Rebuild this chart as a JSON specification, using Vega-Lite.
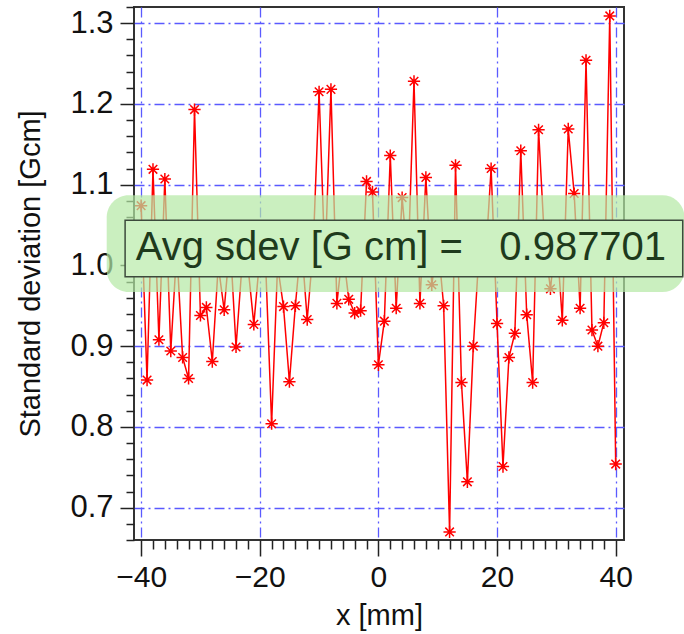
{
  "$schema": "https://vega.github.io/schema/vega-lite/v6.json",
  "width": 490,
  "height": 533,
  "autosize": "none",
  "padding": {"left": 134, "top": 7, "right": 60, "bottom": 94},
  "background": "white",
  "config": {
    "view": {"stroke": "#333333", "strokeWidth": 2},
    "font": "Liberation Sans"
  },
  "datasets": {
    "series": [
      {"x": -40, "sd": 1.074}, {"x": -39, "sd": 0.858}, {"x": -38, "sd": 1.119}, {"x": -37, "sd": 0.908},
      {"x": -36, "sd": 1.107}, {"x": -35, "sd": 0.894}, {"x": -34, "sd": 1.02}, {"x": -33, "sd": 0.886},
      {"x": -32, "sd": 0.86}, {"x": -31, "sd": 1.193}, {"x": -30, "sd": 0.938}, {"x": -29, "sd": 0.948},
      {"x": -28, "sd": 0.881}, {"x": -27, "sd": 1.0}, {"x": -26, "sd": 0.945}, {"x": -25, "sd": 1.03},
      {"x": -24, "sd": 0.899}, {"x": -23, "sd": 1.0}, {"x": -22, "sd": 1.0}, {"x": -21, "sd": 0.927},
      {"x": -20, "sd": 1.01}, {"x": -19, "sd": 1.0}, {"x": -18, "sd": 0.804}, {"x": -17, "sd": 1.0},
      {"x": -16, "sd": 0.949}, {"x": -15, "sd": 0.856}, {"x": -14, "sd": 0.95}, {"x": -13, "sd": 1.03},
      {"x": -12, "sd": 0.933}, {"x": -11, "sd": 1.02}, {"x": -10, "sd": 1.215}, {"x": -9, "sd": 1.0},
      {"x": -8, "sd": 1.218}, {"x": -7, "sd": 0.953}, {"x": -6, "sd": 1.02}, {"x": -5, "sd": 0.958},
      {"x": -4, "sd": 0.941}, {"x": -3, "sd": 0.944}, {"x": -2, "sd": 1.104}, {"x": -1, "sd": 1.091},
      {"x": 0, "sd": 0.877}, {"x": 1, "sd": 0.931}, {"x": 2, "sd": 1.136}, {"x": 3, "sd": 0.947},
      {"x": 4, "sd": 1.084}, {"x": 5, "sd": 1.0}, {"x": 6, "sd": 1.228}, {"x": 7, "sd": 0.953},
      {"x": 8, "sd": 1.109}, {"x": 9, "sd": 0.976}, {"x": 10, "sd": 1.03}, {"x": 11, "sd": 0.95},
      {"x": 12, "sd": 0.67}, {"x": 13, "sd": 1.124}, {"x": 14, "sd": 0.855}, {"x": 15, "sd": 0.732},
      {"x": 16, "sd": 0.9}, {"x": 17, "sd": 1.02}, {"x": 18, "sd": 1.0}, {"x": 19, "sd": 1.12},
      {"x": 20, "sd": 0.928}, {"x": 21, "sd": 0.751}, {"x": 22, "sd": 0.886}, {"x": 23, "sd": 0.916},
      {"x": 24, "sd": 1.142}, {"x": 25, "sd": 0.939}, {"x": 26, "sd": 0.855}, {"x": 27, "sd": 1.168},
      {"x": 28, "sd": 1.03}, {"x": 29, "sd": 0.971}, {"x": 30, "sd": 1.04}, {"x": 31, "sd": 0.932},
      {"x": 32, "sd": 1.169}, {"x": 33, "sd": 1.089}, {"x": 34, "sd": 0.947}, {"x": 35, "sd": 1.254},
      {"x": 36, "sd": 0.92}, {"x": 37, "sd": 0.9}, {"x": 38, "sd": 0.929}, {"x": 39, "sd": 1.309},
      {"x": 40, "sd": 0.754}
    ],
    "band": [{"x": -45.8, "xe": 51.6, "sd": 0.967, "sde": 1.087}],
    "box": [{"x": -42.7, "xe": 51.3, "sd": 0.986, "sde": 1.056}],
    "lab1": [{"x": -40.9, "sd": 1.021, "label": "Avg sdev [G cm] ="}],
    "lab2": [{"x": 48.5, "sd": 1.021, "label": "0.987701"}]
  },
  "encoding": {
    "x": {
      "field": "x",
      "type": "quantitative",
      "scale": {"domain": [-41.2, 41.4], "nice": false, "zero": false},
      "axis": {
        "title": "x [mm]",
        "values": [-40,-38,-36,-34,-32,-30,-28,-26,-24,-22,-20,-18,-16,-14,-12,-10,-8,-6,-4,-2,0,2,4,6,8,10,12,14,16,18,20,22,24,26,28,30,32,34,36,38,40],
        "domain": false,
        "grid": true,
        "gridColor": "#5a5aff",
        "gridDash": [10, 4, 2, 4],
        "gridWidth": 1.3,
        "gridOpacity": {"condition": {"test": "datum.value % 20 === 0", "value": 1}, "value": 0},
        "tickSize": {"condition": {"test": "datum.value % 20 === 0", "value": 16}, "value": 9},
        "tickColor": "#222222",
        "tickWidth": 1.5,
        "labelExpr": "datum.value % 20 === 0 ? datum.label : ''",
        "labelOverlap": false,
        "labelFlush": false,
        "labelFontSize": 30,
        "labelColor": "#111111",
        "labelPadding": 6,
        "titleFontSize": 29,
        "titleFontWeight": "normal",
        "titleColor": "#111111",
        "titlePadding": 9
      }
    },
    "y": {
      "field": "sd",
      "type": "quantitative",
      "scale": {"domain": [0.66, 1.32], "nice": false, "zero": false},
      "axis": {
        "title": "Standard deviation [Gcm]",
        "values": [0.66,0.68,0.7,0.72,0.74,0.76,0.78,0.8,0.82,0.84,0.86,0.88,0.9,0.92,0.94,0.96,0.98,1.0,1.02,1.04,1.06,1.08,1.1,1.12,1.14,1.16,1.18,1.2,1.22,1.24,1.26,1.28,1.3,1.32],
        "domain": false,
        "grid": true,
        "gridColor": "#5a5aff",
        "gridDash": [10, 4, 2, 4],
        "gridWidth": 1.3,
        "gridOpacity": {"condition": {"test": "abs(datum.value*10 - round(datum.value*10)) < 0.001", "value": 1}, "value": 0},
        "tickSize": {"condition": {"test": "abs(datum.value*10 - round(datum.value*10)) < 0.001", "value": 14}, "value": 8},
        "tickColor": "#222222",
        "tickWidth": 1.5,
        "labelExpr": "abs(datum.value*10 - round(datum.value*10)) < 0.001 ? format(datum.value, '.1f') : ''",
        "labelOverlap": false,
        "labelFlush": false,
        "labelFontSize": 31,
        "labelColor": "#111111",
        "labelPadding": 7,
        "titleFontSize": 29,
        "titleFontWeight": "normal",
        "titleColor": "#111111",
        "titlePadding": 24
      }
    }
  },
  "layer": [
    {
      "data": {"name": "series"},
      "mark": {"type": "line", "color": "#ff0000", "strokeWidth": 1.5}
    },
    {
      "data": {"name": "series"},
      "mark": {
        "type": "point",
        "shape": "M-1,0L1,0M0,-1L0,1M-0.7,-0.7L0.7,0.7M-0.7,0.7L0.7,-0.7",
        "filled": false,
        "stroke": "#ff0000",
        "strokeWidth": 1.5,
        "size": 150,
        "opacity": 1
      }
    },
    {
      "data": {"name": "band"},
      "mark": {"type": "rect", "fill": "#b4e8a4", "opacity": 0.7, "cornerRadius": 22},
      "encoding": {"x2": {"field": "xe"}, "y2": {"field": "sde"}}
    },
    {
      "data": {"name": "box"},
      "mark": {"type": "rect", "fill": "#cdf1c2", "stroke": "#3c4a3c", "strokeWidth": 1.5},
      "encoding": {"x2": {"field": "xe"}, "y2": {"field": "sde"}}
    },
    {
      "data": {"name": "lab1"},
      "mark": {"type": "text", "align": "left", "baseline": "middle", "fontSize": 40, "color": "#1e3a1c", "font": "Liberation Sans"},
      "encoding": {"text": {"field": "label"}}
    },
    {
      "data": {"name": "lab2"},
      "mark": {"type": "text", "align": "right", "baseline": "middle", "fontSize": 40, "color": "#1e3a1c", "font": "Liberation Sans"},
      "encoding": {"text": {"field": "label"}}
    }
  ]
}
